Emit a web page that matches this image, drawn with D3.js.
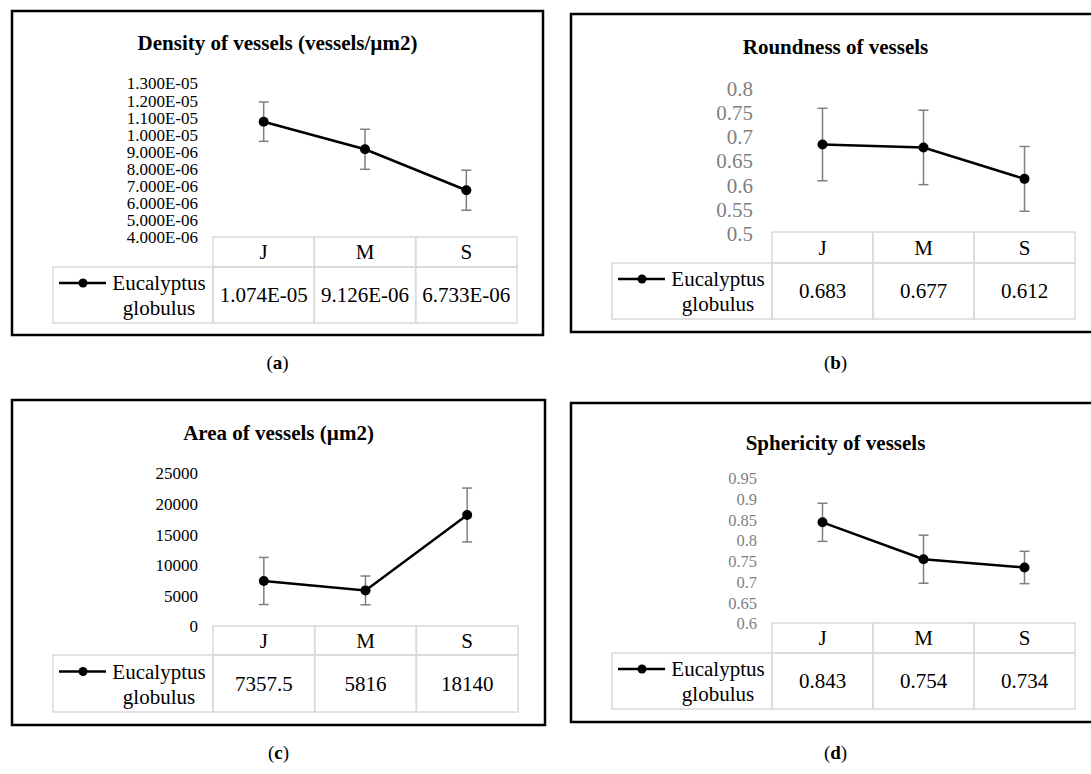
<!DOCTYPE html>
<html>
<head>
<meta charset="utf-8">
<script src="https://cdn.jsdelivr.net/npm/d3@7"></script>
<style>
  body { margin: 0; background: #fff; }
  svg text { font-family: 'Liberation Serif', 'Times New Roman', serif; }
</style>
</head>
<body>
<svg id="chart" width="1091" height="774"></svg>
<script>
// Categories and series label
const months = ['J', 'M', 'S'];
const seriesName = ['Eucalyptus', 'globulus'];

// (a) density of vessels
const densityMean = [1.074e-5, 9.126e-6, 6.733e-6];
const densityErr = [1.15e-6, 1.17e-6, 1.17e-6];
const densityTicks = [4e-6, 5e-6, 6e-6, 7e-6, 8e-6, 9e-6, 1e-5, 1.1e-5, 1.2e-5, 1.3e-5];

// (b) roundness
const roundMean = [0.683, 0.677, 0.612];
const roundErr = [0.075, 0.077, 0.067];
const roundTicks = [0.5, 0.55, 0.6, 0.65, 0.7, 0.75, 0.8];

// (c) area
const areaMean = [7357.5, 5816, 18140];
const areaErr = [3850, 2350, 4400];
const areaTicks = [0, 5000, 10000, 15000, 20000, 25000];

// (d) sphericity
const sphereMean = [0.843, 0.754, 0.734];
const sphereErr = [0.046, 0.058, 0.039];
const sphereTicks = [0.6, 0.65, 0.7, 0.75, 0.8, 0.85, 0.9, 0.95];

const titles = ['Density of vessels (vessels/µm2)', 'Roundness of vessels', 'Area of vessels (µm2)', 'Sphericity of vessels'];
const captions = ['a', 'b', 'c', 'd'];

// number formats
function sci(v) {
  const [m, e] = v.toExponential(3).split('e');
  const n = +e;
  return m + 'E' + (n < 0 ? '-' : '+') + String(Math.abs(n)).padStart(2, '0');
}
const plain = (v) => String(+v.toFixed(3));

const svg = d3.select('#chart');

function drawPanel(p) {
  const g = svg.append('g');

  // outer frame
  g.append('rect')
    .attr('x', p.box[0]).attr('y', p.box[1])
    .attr('width', p.box[2] - p.box[0]).attr('height', p.box[3] - p.box[1])
    .attr('fill', '#fff').attr('stroke', '#000').attr('stroke-width', 2.5);

  g.append('text')
    .attr('x', (p.box[0] + p.box[2]) / 2).attr('y', p.titleY)
    .attr('text-anchor', 'middle').attr('dominant-baseline', 'central')
    .attr('font-size', 21).attr('font-weight', 'bold')
    .text(p.title);

  const x = d3.scaleBand().domain(months).range([p.colL, p.colR]);
  const y = d3.scaleLinear().domain(d3.extent(p.ticks)).range([p.plotB, p.plotT]);
  const cx = (m) => x(m) + x.bandwidth() / 2;

  // y tick labels (no axis line)
  const ax = g.append('g')
    .attr('transform', `translate(${p.tickX},0)`)
    .call(d3.axisLeft(y).tickValues(p.ticks).tickFormat(p.tickFmt).tickSize(0).tickPadding(0));
  ax.select('.domain').remove();
  ax.selectAll('text')
    .attr('font-size', p.tickSize)
    .attr('font-family', "'Liberation Serif', 'Times New Roman', serif")
    .attr('fill', p.tickColor)
    .attr('dy', '0.35em');

  const pts = months.map((m, i) => ({ m, v: p.mean[i], e: p.err[i] }));

  // error bars
  const eb = g.append('g').attr('stroke', '#7f7f7f').attr('stroke-width', 1.5);
  pts.forEach((d) => {
    eb.append('line').attr('x1', cx(d.m)).attr('x2', cx(d.m))
      .attr('y1', y(d.v + d.e)).attr('y2', y(d.v - d.e));
    [d.v + d.e, d.v - d.e].forEach((v) => {
      eb.append('line').attr('x1', cx(d.m) - 5).attr('x2', cx(d.m) + 5)
        .attr('y1', y(v)).attr('y2', y(v));
    });
  });

  // series line and markers
  g.append('path')
    .datum(pts)
    .attr('d', d3.line().x((d) => cx(d.m)).y((d) => y(d.v)))
    .attr('fill', 'none').attr('stroke', '#000').attr('stroke-width', 2.5);
  g.selectAll('circle.pt').data(pts).join('circle')
    .attr('cx', (d) => cx(d.m)).attr('cy', (d) => y(d.v)).attr('r', 5).attr('fill', '#000');

  // data table
  const tb = g.append('g');
  const grid = { fill: 'none', stroke: '#d9d9d9', 'stroke-width': 1.5 };
  months.forEach((m, i) => {
    tb.append('rect').attr('x', x(m)).attr('y', p.headT)
      .attr('width', x.bandwidth()).attr('height', p.headB - p.headT)
      .attr('fill', grid.fill).attr('stroke', grid.stroke).attr('stroke-width', grid['stroke-width']);
    tb.append('rect').attr('x', x(m)).attr('y', p.headB)
      .attr('width', x.bandwidth()).attr('height', p.dataB - p.headB)
      .attr('fill', grid.fill).attr('stroke', grid.stroke).attr('stroke-width', grid['stroke-width']);
    tb.append('text').attr('x', cx(m)).attr('y', (p.headT + p.headB) / 2)
      .attr('text-anchor', 'middle').attr('dominant-baseline', 'central')
      .attr('font-size', 21).text(m);
    tb.append('text').attr('x', cx(m)).attr('y', (p.headB + p.dataB) / 2)
      .attr('text-anchor', 'middle').attr('dominant-baseline', 'central')
      .attr('font-size', 21).text(p.cellFmt(p.mean[i]));
  });
  tb.append('rect').attr('x', p.legL).attr('y', p.headB)
    .attr('width', p.colL - p.legL).attr('height', p.dataB - p.headB)
    .attr('fill', grid.fill).attr('stroke', grid.stroke).attr('stroke-width', grid['stroke-width']);

  // legend key inside the table
  const mid = (p.headB + p.dataB) / 2;
  tb.append('line').attr('x1', p.legL + 6).attr('x2', p.legL + 53)
    .attr('y1', mid - 12).attr('y2', mid - 12)
    .attr('stroke', '#000').attr('stroke-width', 2.5);
  tb.append('circle').attr('cx', p.legL + 30).attr('cy', mid - 12).attr('r', 4.5).attr('fill', '#000');
  seriesName.forEach((s, i) => {
    tb.append('text').attr('x', p.legL + 106).attr('y', mid - 12 + i * 25)
      .attr('text-anchor', 'middle').attr('dominant-baseline', 'central')
      .attr('font-size', 21).text(s);
  });

  // panel caption
  const cap = svg.append('text')
    .attr('x', (p.box[0] + Math.min(p.box[2], 1100)) / 2 + p.capDx).attr('y', p.capY)
    .attr('text-anchor', 'middle').attr('dominant-baseline', 'central')
    .attr('font-size', 19);
  cap.append('tspan').text('(');
  cap.append('tspan').attr('font-weight', 'bold').text(p.caption);
  cap.append('tspan').text(')');
}

const panels = [
  { box: [12, 11, 543, 335], titleY: 43, plotT: 83, plotB: 237, tickX: 198, tickSize: 17, tickColor: '#000',
    legL: 53, colL: 213, colR: 517, headT: 237, headB: 267, dataB: 323, capY: 362, capDx: 0,
    mean: densityMean, err: densityErr, ticks: densityTicks, tickFmt: sci, cellFmt: sci },
  { box: [571, 14, 1100, 332], titleY: 47, plotT: 88, plotB: 233, tickX: 753, tickSize: 21, tickColor: '#7f7f7f',
    legL: 612, colL: 772, colR: 1075, headT: 232, headB: 263, dataB: 319, capY: 362, capDx: 0,
    mean: roundMean, err: roundErr, ticks: roundTicks, tickFmt: plain, cellFmt: plain },
  { box: [12, 400, 545, 725], titleY: 433, plotT: 473, plotB: 626, tickX: 198, tickSize: 17, tickColor: '#000',
    legL: 53, colL: 213, colR: 518, headT: 626, headB: 655, dataB: 712, capY: 752, capDx: 0,
    mean: areaMean, err: areaErr, ticks: areaTicks, tickFmt: plain, cellFmt: plain },
  { box: [571, 403, 1100, 722], titleY: 443, plotT: 478, plotB: 623, tickX: 757, tickSize: 16.5, tickColor: '#7f7f7f',
    legL: 612, colL: 772, colR: 1075, headT: 623, headB: 653, dataB: 709, capY: 752, capDx: 0,
    mean: sphereMean, err: sphereErr, ticks: sphereTicks, tickFmt: plain, cellFmt: plain }
];

panels.forEach((p, i) => drawPanel({ ...p, title: titles[i], caption: captions[i] }));
</script>
</body>
</html>
